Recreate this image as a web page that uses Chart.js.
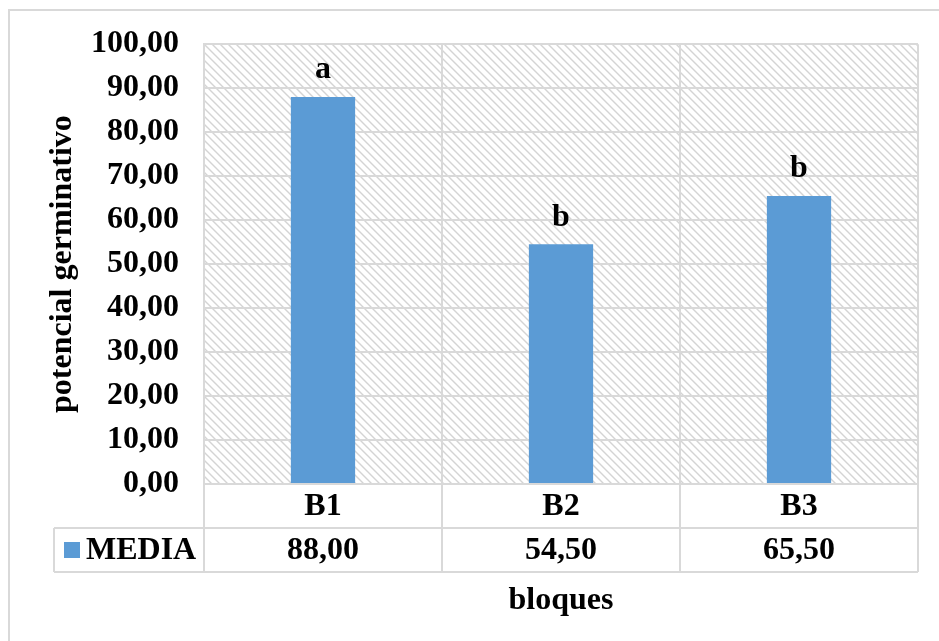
<!DOCTYPE html>
<html>
<head>
<meta charset="utf-8">
<script src="https://cdn.jsdelivr.net/npm/chart.js@4.4.0/dist/chart.umd.min.js"></script>
<style>
  html, body { margin: 0; padding: 0; background: #fff; }
  #wrap { width: 939px; height: 641px; position: relative; }
</style>
</head>
<body>
<div id="wrap"><canvas id="myChart"></canvas></div>
<script>
// datos del gráfico
const categories = ['B1', 'B2', 'B3'];
const media = [88.00, 54.50, 65.50];
const letters = ['a', 'b', 'b'];
const yTicks = [0, 10, 20, 30, 40, 50, 60, 70, 80, 90, 100];
const seriesName = 'MEDIA';
const yTitle = 'potencial germinativo';
const xTitle = 'bloques';

const FONT = '"Liberation Serif", "Times New Roman", serif';
const GRID = '#d9d9d9';
const BAR = '#5b9bd5';
const FS = 32;

function fmt(v) {
    return v.toFixed(2).replace('.', ',');
}

// trama diagonal del fondo
function makeHatch() {
    const c = document.createElement('canvas');
    c.width = 8; c.height = 8;
    const g = c.getContext('2d');
    g.strokeStyle = '#d4d4d4';
    g.lineWidth = 1.4;
    g.beginPath();
    g.moveTo(-2, -2); g.lineTo(10, 10);
    g.moveTo(-2, 6); g.lineTo(2, 10);
    g.moveTo(6, -2); g.lineTo(10, 2);
    g.stroke();
    return c;
}

const tablePlugin = {
    id: 'tablePlugin',
    beforeDraw(chart) {
        const ctx = chart.ctx;
        const a = chart.chartArea;
        ctx.save();
        // borde exterior
        ctx.strokeStyle = GRID;
        ctx.lineWidth = 2;
        ctx.strokeRect(9, 10, 1200, 1200);
        // fondo rayado
        ctx.fillStyle = ctx.createPattern(makeHatch(), 'repeat');
        ctx.fillRect(a.left, a.top, a.right - a.left, a.bottom - a.top);
        ctx.restore();
    },
    afterDraw(chart) {
        const ctx = chart.ctx;
        const a = chart.chartArea;
        const x = chart.scales.x;
        const meta = chart.getDatasetMeta(0);
        const row1 = a.bottom + 44;
        const row2 = row1 + 44;
        const legLeft = 54;

        ctx.save();
        // letras de significancia
        ctx.fillStyle = '#000';
        ctx.font = 'bold ' + FS + 'px ' + FONT;
        ctx.textAlign = 'center';
        ctx.textBaseline = 'middle';
        meta.data.forEach((bar, i) => {
            ctx.fillText(letters[i], bar.x, bar.y - 27);
        });

        // tabla de datos
        ctx.strokeStyle = GRID;
        ctx.lineWidth = 2;
        ctx.beginPath();
        for (let i = 0; i <= categories.length; i++) {
            const px = x.getPixelForValue(i - 0.5);
            ctx.moveTo(px, a.bottom); ctx.lineTo(px, row2);
        }
        ctx.moveTo(legLeft, row1); ctx.lineTo(a.right, row1);
        ctx.moveTo(legLeft, row2); ctx.lineTo(a.right, row2);
        ctx.moveTo(legLeft, row1); ctx.lineTo(legLeft, row2);
        ctx.stroke();

        categories.forEach((c, i) => {
            const px = x.getPixelForValue(i);
            ctx.fillText(c, px, a.bottom + 23);
            ctx.fillText(fmt(media[i]), px, row1 + 23);
        });

        // leyenda
        ctx.fillStyle = BAR;
        ctx.fillRect(64, row1 + 14, 16, 16);
        ctx.fillStyle = '#000';
        ctx.textAlign = 'left';
        ctx.fillText(seriesName, 86, row1 + 23);

        // título del eje x
        ctx.textAlign = 'center';
        ctx.fillText(xTitle, (a.left + a.right) / 2, row2 + 29);
        ctx.restore();
    }
};

const ctx = document.getElementById('myChart').getContext('2d');
const chart = new Chart(ctx, {
    type: 'bar',
    data: {
        labels: categories,
        datasets: [{
            label: seriesName,
            data: media,
            backgroundColor: BAR,
            categoryPercentage: 1,
            barPercentage: 0.27
        }]
    },
    options: {
        responsive: true,
        maintainAspectRatio: false,
        animation: false,
        layout: { padding: { top: 42, right: 21, bottom: 157, left: 0 } },
        plugins: {
            legend: { display: false },
            tooltip: { enabled: false }
        },
        scales: {
            x: {
                offset: true,
                ticks: { display: false },
                grid: { offset: true, color: GRID, lineWidth: 2, drawTicks: false },
                border: { display: true, color: GRID, width: 2 },
                afterFit: s => { s.height = 0; }
            },
            y: {
                min: 0,
                max: 100,
                afterBuildTicks: s => { s.ticks = yTicks.map(v => ({ value: v })); },
                ticks: {
                    color: '#000',
                    font: { family: FONT, size: FS, weight: 'bold' },
                    padding: 25,
                    callback: v => fmt(v)
                },
                grid: { color: GRID, lineWidth: 2, drawTicks: false },
                border: { display: true, color: GRID, width: 2 },
                title: {
                    display: true,
                    text: yTitle,
                    color: '#000',
                    font: { family: FONT, size: FS, weight: 'bold' },
                    padding: { top: 44, bottom: 0 }
                },
                afterFit: s => { s.width = 204; }
            }
        }
    },
    plugins: [tablePlugin]
});
</script>
</body>
</html>
